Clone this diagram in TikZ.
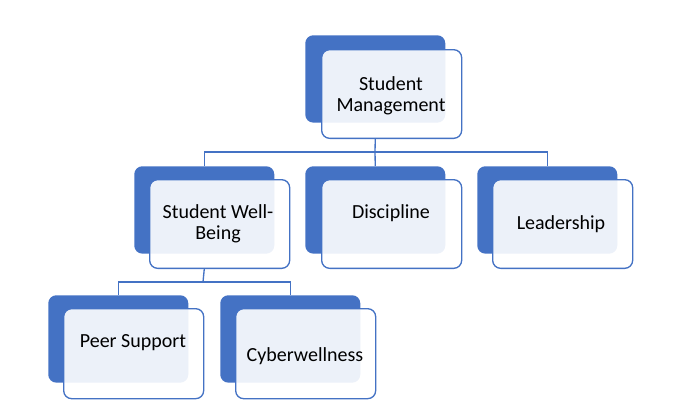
\documentclass[tikz,border=0pt]{standalone}
\usepackage{fontspec}
\setmainfont{Carlito}
\definecolor{obl}{HTML}{4472C4}
\begin{document}
\begin{tikzpicture}[x=0.75pt,y=-0.75pt,
  backbox/.style={rectangle,rounded corners=6pt,fill=obl,draw=none,anchor=north west,
    minimum width=105pt,minimum height=65.5pt,inner sep=0pt},
  frontbox/.style={rectangle,rounded corners=6pt,fill=white,fill opacity=0.9,draw=obl,draw opacity=1,
    line width=1pt,anchor=north west,minimum width=105pt,minimum height=66.5pt,inner sep=0pt},
  lbl/.style={align=center,font=\fontsize{15}{16}\selectfont,text=black,inner sep=0pt},
  conn/.style={draw=obl,line width=1pt}]
\useasboundingbox (0,0) rectangle (682,419);
% back boxes
\node[backbox] (topd) at (305,35) {};
\node[backbox] (wbd) at (134,166) {};
\node[backbox] (discd) at (305,166) {};
\node[backbox] (leadd) at (477,166) {};
\node[backbox] (peerd) at (48,295) {};
\node[backbox] (cybd) at (220,295) {};
% front boxes
\node[frontbox] (topf) at (321,49) {};
\node[frontbox] (wbf) at (149,179) {};
\node[frontbox] (discf) at (321,179) {};
\node[frontbox] (leadf) at (492,179) {};
\node[frontbox, minimum height=67.5pt] (peerf) at (63,308) {};
\node[frontbox, minimum height=67.5pt] (cybf) at (235,308) {};
% labels
\node[lbl] (topt) at (391,96) {Student\\Management};
\node[lbl] (wbt) at (218,224) {Student Well-\\Being};
\node[lbl] (disct) at (391,213) {Discipline};
\node[lbl] (leadt) at (561,224) {Leadership};
\node[lbl] (peert) at (133,343) {Peer Support};
\node[lbl] (cybt) at (305,356) {Cyberwellness};
% connectors
\coordinate (bus1) at (375,152);
\coordinate (bus2) at (203,282);
\draw[conn] (topd.south |- topf.south) -- (bus1);
\draw[conn] (bus1) -| (wbd.north);
\draw[conn] (bus1) -- (discd.north);
\draw[conn] (bus1) -| (leadd.north);
\draw[conn] (wbd.south |- wbf.south) -- (bus2);
\draw[conn] (bus2) -| (peerd.north);
\draw[conn] (bus2) -| (cybd.north);
\end{tikzpicture}
\end{document}
